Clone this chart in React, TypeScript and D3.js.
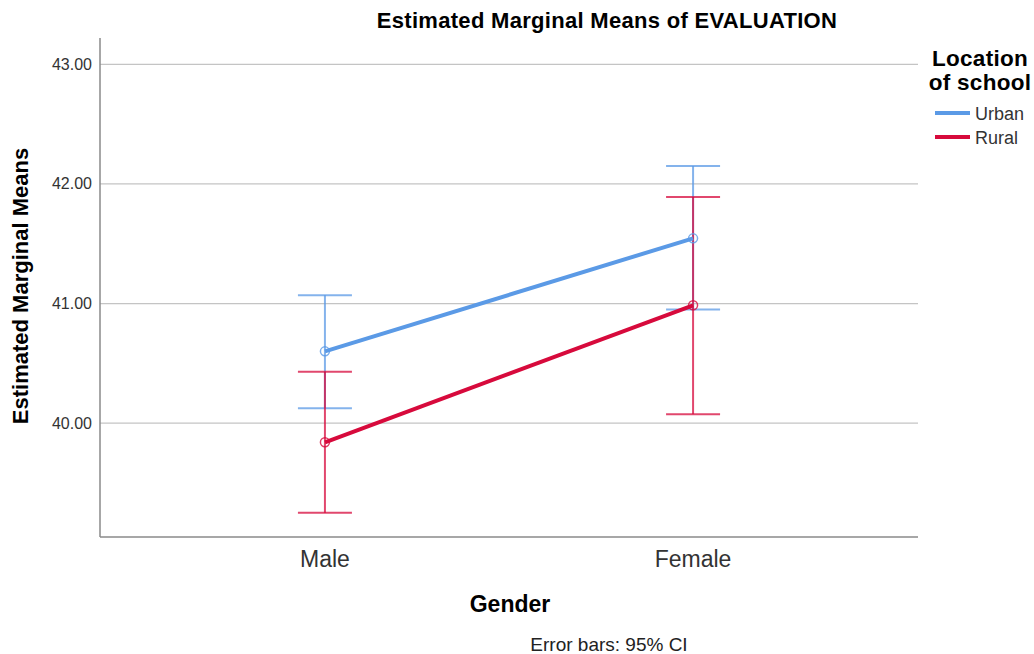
import React from "react";
import * as d3 from "d3";

const categories = ["Male", "Female"];
const seriesNames = ["Urban", "Rural"];
const urbanMeans = [40.6, 41.545];
const urbanLower = [40.125, 40.95];
const urbanUpper = [41.07, 42.15];
const ruralMeans = [39.84, 40.985];
const ruralLower = [39.25, 40.075];
const ruralUpper = [40.43, 41.89];
const yTicks = [40, 41, 42, 43];

const colors = ["#5b9ae6", "#d70a3c"];

export default function App() {
  const W = 1034, H = 654;
  const left = 100, right = 918, top = 38, bottom = 537;
  const x = d3.scalePoint<string>().domain(categories).range([left, right]).padding(0.611);
  const y = d3.scaleLinear().domain([39.048, 43.22]).range([bottom, top]);
  const series = [
    { name: seriesNames[0], means: urbanMeans, lo: urbanLower, hi: urbanUpper, color: colors[0] },
    { name: seriesNames[1], means: ruralMeans, lo: ruralLower, hi: ruralUpper, color: colors[1] },
  ];
  const line = d3.line<number>().x((_, i) => x(categories[i])!).y((d) => y(d));
  const font = "'Liberation Sans', Arial, sans-serif";
  const cap = 27;
  return (
    <div style={{ position: "fixed", left: 0, top: 0 }}>
      <svg width={W} height={H} style={{ display: "block", fontFamily: font }}>
        <rect width={W} height={H} fill="#fff" />
        <text x={607} y={28} textAnchor="middle" fontSize={22} fontWeight="bold" fill="#000" letterSpacing={0.3}>
          Estimated Marginal Means of EVALUATION
        </text>
        {yTicks.map((t) => (
          <g key={t}>
            <line x1={left} x2={right} y1={y(t)} y2={y(t)} stroke="#c4c4c4" strokeWidth={1.2} />
            <text x={92} y={y(t) + 5.5} textAnchor="end" fontSize={16} fill="#333">
              {t.toFixed(2)}
            </text>
          </g>
        ))}
        <line x1={left} x2={left} y1={top} y2={bottom} stroke="#8a8a8a" strokeWidth={1.5} />
        <line x1={left} x2={right} y1={bottom} y2={bottom} stroke="#8a8a8a" strokeWidth={1.5} />
        {categories.map((c) => (
          <text key={c} x={x(c)} y={567} textAnchor="middle" fontSize={23} fill="#333">
            {c}
          </text>
        ))}
        <text x={510} y={612} textAnchor="middle" fontSize={23} fontWeight="bold" fill="#000">
          Gender
        </text>
        <text x={609} y={651} textAnchor="middle" fontSize={19} fill="#222">
          Error bars: 95% CI
        </text>
        <text
          transform={`translate(28,${286}) rotate(-90)`}
          textAnchor="middle"
          fontSize={22}
          fontWeight="bold"
          fill="#000"
        >
          Estimated Marginal Means
        </text>
        {series.map((s) => (
          <g key={s.name}>
            {categories.map((c, i) => {
              const cx = x(c)!;
              return (
                <g key={c} stroke={s.color} strokeOpacity={0.75} strokeWidth={2}>
                  <line x1={cx} x2={cx} y1={y(s.lo[i])} y2={y(s.hi[i])} />
                  <line x1={cx - cap} x2={cx + cap} y1={y(s.lo[i])} y2={y(s.lo[i])} />
                  <line x1={cx - cap} x2={cx + cap} y1={y(s.hi[i])} y2={y(s.hi[i])} />
                </g>
              );
            })}
          </g>
        ))}
        {series.map((s) => (
          <g key={s.name + "l"}>
            <path d={line(s.means)!} fill="none" stroke={s.color} strokeWidth={4} />
            {s.means.map((m, i) => (
              <circle
                key={i}
                cx={x(categories[i])}
                cy={y(m)}
                r={4.5}
                fill="none"
                stroke={s.color}
                strokeOpacity={0.8}
                strokeWidth={1.5}
              />
            ))}
          </g>
        ))}
        <text x={980} y={66} textAnchor="middle" fontSize={22.5} fontWeight="bold" fill="#000" letterSpacing={0.3}>
          Location
        </text>
        <text x={980} y={90} textAnchor="middle" fontSize={22.5} fontWeight="bold" fill="#000" letterSpacing={0.3}>
          of school
        </text>
        {series.map((s, i) => (
          <g key={s.name + "leg"}>
            <line x1={935} x2={970} y1={113 + i * 24} y2={113 + i * 24} stroke={s.color} strokeWidth={4} />
            <text x={975} y={120 + i * 24} fontSize={18} fill="#333">
              {s.name}
            </text>
          </g>
        ))}
      </svg>
    </div>
  );
}
